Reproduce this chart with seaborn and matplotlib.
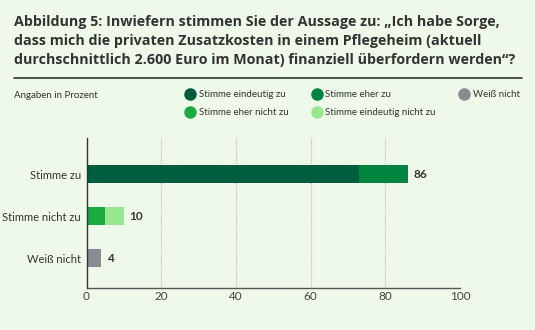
import matplotlib
matplotlib.use("Agg")
import matplotlib.pyplot as plt
from matplotlib.lines import Line2D
import seaborn as sns
import pandas as pd

categories = ["Stimme zu", "Stimme nicht zu", "Weiß nicht"]
first_segment = [73, 5, 0]      # Stimme eindeutig zu / Stimme eher nicht zu
second_segment = [13, 5, 4]     # Stimme eher zu / Stimme eindeutig nicht zu / Weiß nicht
totals = [86, 10, 4]
legend_labels = ["Stimme eindeutig zu", "Stimme eher nicht zu", "Stimme eher zu",
                 "Stimme eindeutig nicht zu", "Weiß nicht"]
xticks = [0, 20, 40, 60, 80, 100]

c_dark = "#005E3E"
c_eher = "#00843F"
c_ehernicht = "#1AAA40"
c_nicht = "#98E68F"
c_gray = "#878B92"
bg = "#EEF9EA"
txt = "#333333"

sns.set_theme(style="white")
plt.rcParams['font.family'] = ['Lato', 'DejaVu Sans']

fig = plt.figure(figsize=(5.35, 3.30), dpi=100, facecolor=bg)
ax = fig.add_axes([0.1617, 0.1273, 0.6985, 0.4545])
ax.set_facecolor(bg)

cum = [a + b for a, b in zip(first_segment, second_segment)]
df_tot = pd.DataFrame({"cat": categories, "val": cum})
df_first = pd.DataFrame({"cat": categories, "val": first_segment})

sns.barplot(data=df_tot, x="val", y="cat", hue="cat", orient="h",
            palette=[c_eher, c_nicht, c_gray], width=0.43, legend=False,
            ax=ax, saturation=1, linewidth=0)
sns.barplot(data=df_first, x="val", y="cat", hue="cat", orient="h",
            palette=[c_dark, c_ehernicht, c_gray], width=0.43, legend=False,
            ax=ax, saturation=1, linewidth=0)

for i, t in enumerate(totals):
    ax.text(t + 1.5, i, str(t), va="center", ha="left", fontsize=8.5,
            fontweight="bold", color=txt)

ax.set_xlim(0, 100)
ax.set_ylim(2.71, -0.86)
ax.set_xticks(xticks)
ax.set_xticklabels([str(x) for x in xticks], fontsize=8.5, color="#444444")
ax.tick_params(axis="y", labelsize=8, labelcolor=txt, length=0, pad=4)
ax.tick_params(axis="x", length=0, pad=2)
ax.set_xlabel("")
ax.set_ylabel("")
for x in xticks[1:]:
    ax.axvline(x, color="#BBBBBB", lw=0.8, ls=(0, (1, 1)), zorder=0)
for s in ["top", "right"]:
    ax.spines[s].set_visible(False)
ax.spines["left"].set_color("#333333")
ax.spines["left"].set_linewidth(1.0)
ax.spines["bottom"].set_color("#555555")
ax.spines["bottom"].set_linewidth(1.0)

title = ("Abbildung 5: Inwiefern stimmen Sie der Aussage zu: „Ich habe Sorge,\n"
         "dass mich die privaten Zusatzkosten in einem Pflegeheim (aktuell\n"
         "durchschnittlich 2.600 Euro im Monat) finanziell überfordern werden“?")
fig.text(14 / 535, 1 - 15 / 330, title, ha="left", va="top", fontsize=10.3,
         fontweight="bold", color=txt, linespacing=1.45,
         family=["Open Sans", "DejaVu Sans"])
fig.add_artist(Line2D([14 / 535, 522 / 535], [1 - 78 / 330, 1 - 78 / 330],
                      color="#333333", lw=1.2))
fig.text(14 / 535, 1 - 95 / 330, "Angaben in Prozent", ha="left", va="center",
         fontsize=7, color=txt)

colors = [c_dark, c_ehernicht, c_eher, c_nicht, c_gray]
handles = [Line2D([0], [0], marker="o", ls="", markersize=8, markerfacecolor=c,
                  markeredgecolor=c) for c in colors]
fig.legend(handles, legend_labels, ncol=3, loc="upper left",
           bbox_to_anchor=(184 / 535, 1 - 90 / 330), frameon=False,
           fontsize=7, handletextpad=0.3, columnspacing=2.3,
           labelspacing=0.95, borderaxespad=0, borderpad=0, handlelength=1.2,
           labelcolor=txt)

fig.savefig("out.png", dpi=100, facecolor=bg)
